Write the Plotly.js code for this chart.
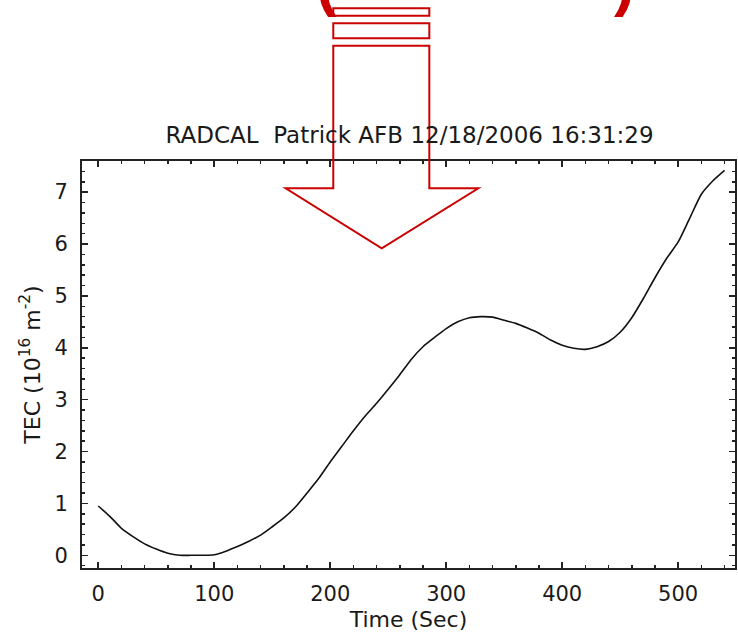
<!DOCTYPE html>
<html>
<head>
<meta charset="utf-8">
<script src="https://cdn.plot.ly/plotly-3.0.1.min.js"></script>
<style>html,body{margin:0;padding:0;background:#fff;}#chart{width:738px;height:638px;}</style>
</head>
<body>
<div id="chart"></div>
<script>
// Data
const timeSec = [0,10,20,30,40,50,60,70,80,90,100,110,120,130,140,150,160,170,180,190,200,210,220,230,240,250,260,270,280,290,300,310,320,330,340,350,360,370,380,390,400,410,420,430,440,450,460,470,480,490,500,510,520,530,540];
const tecValues = [0.95,0.75,0.52,0.36,0.22,0.12,0.04,0.0,0.0,0.0,0.01,0.08,0.17,0.27,0.39,0.55,0.72,0.93,1.20,1.48,1.80,2.10,2.40,2.68,2.93,3.20,3.48,3.78,4.02,4.20,4.37,4.50,4.58,4.60,4.59,4.53,4.47,4.38,4.28,4.15,4.05,3.99,3.97,4.02,4.12,4.30,4.58,4.95,5.35,5.72,6.04,6.50,6.96,7.22,7.42];
const xTickVals = [0,100,200,300,400,500];
const yTickVals = [0,1,2,3,4,5,6,7];
const chartTitle = 'RADCAL  Patrick AFB 12/18/2006 16:31:29';
const xTitle = 'Time (Sec)';
const yTitle = 'TEC (10<sup>16</sup> m<sup>-2</sup>)';

const red = '#cc0000';
const fam = 'DejaVu Sans, Liberation Sans, Arial, sans-serif';
const font = {family: fam, color: '#1a1a1a', size: 21};
const titleFont = {family: fam, color: '#1a1a1a', size: 22};

const trace = {
  x: timeSec, y: tecValues, type: 'scatter', mode: 'lines',
  line: {color: '#111', width: 1.6, shape: 'spline', smoothing: 0.6}, hoverinfo: 'skip'
};

const axisCommon = {
  showline: true, linecolor: '#222', linewidth: 2, mirror: 'allticks',
  ticks: 'inside', ticklen: 6, tickwidth: 1.5, tickcolor: '#222',
  showgrid: false, zeroline: false, tickfont: font
};

const layout = {
  width: 738, height: 638,
  margin: {l: 82, r: 3, t: 161, b: 70},
  paper_bgcolor: '#fff', plot_bgcolor: '#fff',
  showlegend: false,
  font: font,
  title: {text: chartTitle, font: {family: fam, color: '#1a1a1a', size: 23}, x: 0.555, xanchor: 'center', y: 0.789, yanchor: 'middle'},
  xaxis: Object.assign({}, axisCommon, {
    range: [-14, 549], tickvals: xTickVals,
    minor: {dtick: 20, ticks: 'inside', ticklen: 3, tickwidth: 1.5, tickcolor: '#222'},
    title: {text: xTitle, font: titleFont, standoff: 6},
    ticklabelstandoff: 6
  }),
  yaxis: Object.assign({}, axisCommon, {
    range: [-0.245, 7.6], tickvals: yTickVals,
    minor: {dtick: 0.2, ticks: 'inside', ticklen: 3, tickwidth: 1.5, tickcolor: '#222'},
    title: {text: yTitle, font: titleFont, standoff: 8},
    ticklabelstandoff: 8
  }),
  shapes: [
    {type: 'rect', xref: 'paper', yref: 'paper', x0: 0.3848, x1: 0.5319, y0: 1.3570, y1: 1.3752, line: {color: red, width: 2}, layer: 'above'},
    {type: 'rect', xref: 'paper', yref: 'paper', x0: 0.3848, x1: 0.5319, y0: 1.3014, y1: 1.3383, line: {color: red, width: 2}, layer: 'above'},
    {type: 'path', xref: 'paper', yref: 'paper', layer: 'above', line: {color: red, width: 2},
     path: 'M 0.3848 1.2833 L 0.5319 1.2833 L 0.5319 0.9329 L 0.6069 0.9329 L 0.4590 0.7855 L 0.3119 0.9329 L 0.3848 0.9329 Z'}
  ],
  annotations: [
    {xref: 'paper', yref: 'paper', x: 0.394, y: 1.350, xanchor: 'right', yanchor: 'bottom', showarrow: false,
     text: '<b>(</b>', font: {family: 'Liberation Sans, Arial, sans-serif', size: 62, color: red}},
    {xref: 'paper', yref: 'paper', x: 0.812, y: 1.350, xanchor: 'left', yanchor: 'bottom', showarrow: false,
     text: '<b>)</b>', font: {family: 'Liberation Sans, Arial, sans-serif', size: 62, color: red}}
  ]
};

Plotly.newPlot('chart', [trace], layout, {displayModeBar: false, staticPlot: true});
</script>
</body>
</html>
